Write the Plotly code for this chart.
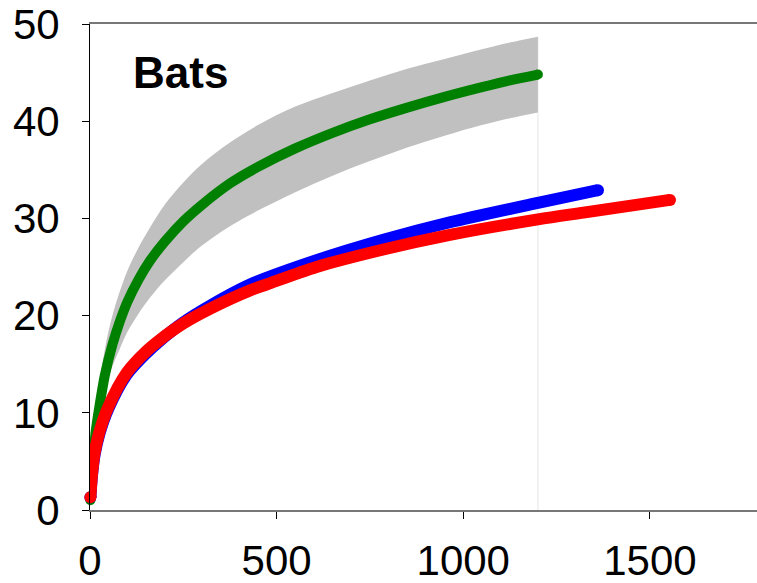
import plotly.graph_objects as go

# ---- data ----
green_x = [1, 3, 8, 15, 25, 40, 60, 80, 100, 130, 160, 200, 250, 300, 375, 450, 550, 650, 750, 850, 950, 1050, 1125, 1200]
green_y = [1.0, 2.4, 4.9, 8.0, 10.6, 13.9, 17.0, 19.4, 21.4, 23.7, 25.6, 27.6, 29.7, 31.4, 33.6, 35.3, 37.2, 38.8, 40.2, 41.4, 42.5, 43.5, 44.2, 44.8]

band_up_x = [1, 3, 8, 15, 25, 40, 60, 80, 100, 130, 160, 200, 250, 300, 375, 450, 550, 650, 750, 850, 950, 1050, 1125, 1200]
band_up_y = [1.2, 2.8, 6.1, 9.5, 13.0, 16.6, 20.0, 22.5, 24.6, 27.0, 29.0, 31.4, 33.7, 35.6, 37.8, 39.6, 41.5, 42.9, 44.2, 45.4, 46.4, 47.4, 48.1, 48.7]
band_lo_x = [1, 3, 8, 15, 25, 40, 60, 80, 100, 130, 160, 200, 250, 300, 375, 450, 550, 650, 750, 850, 950, 1050, 1125, 1200]
band_lo_y = [0.8, 2.0, 4.5, 7.0, 10.0, 12.6, 14.8, 16.6, 18.3, 20.2, 21.8, 23.6, 25.5, 27.2, 29.2, 30.8, 32.7, 34.4, 35.9, 37.3, 38.5, 39.6, 40.3, 40.9]

blue_x = [1, 5, 12, 25, 49, 98, 150, 187, 250, 321, 429, 607, 786, 964, 1200, 1361]
blue_y = [1.3, 3.4, 5.6, 7.8, 10.4, 13.9, 16.1, 17.4, 19.3, 21.0, 23.2, 25.7, 27.8, 29.6, 31.6, 32.9]

red_x = [1, 5, 12, 25, 49, 98, 150, 187, 250, 321, 429, 473, 607, 786, 964, 1200, 1322, 1554]
red_y = [1.3, 3.5, 5.8, 8.0, 10.6, 14.1, 16.3, 17.5, 19.2, 20.7, 22.6, 23.2, 25.0, 26.8, 28.3, 29.9, 30.6, 31.9]

x_ticks = [0, 500, 1000, 1500]
y_ticks = [0, 10, 20, 30, 40, 50]
label = "Bats"

FONT = "Liberation Sans, Arial, sans-serif"

fig = go.Figure()

# faint vertical edge line of the band
fig.add_trace(go.Scatter(x=[band_lo_x[-1], band_lo_x[-1]], y=[0, band_up_y[-1]],
                         mode="lines", line=dict(color="#e6e6e6", width=1),
                         hoverinfo="skip", showlegend=False))

# confidence band
fig.add_trace(go.Scatter(x=band_lo_x, y=band_lo_y, mode="lines",
                         line=dict(width=0, shape="spline", color="#c0c0c0"),
                         cliponaxis=False, showlegend=False, hoverinfo="skip"))
fig.add_trace(go.Scatter(x=band_up_x, y=band_up_y, mode="lines",
                         line=dict(width=0, shape="spline", color="#c0c0c0"),
                         fill="tonexty", fillcolor="#c0c0c0",
                         cliponaxis=False, showlegend=False, hoverinfo="skip"))

def add_curve(xs, ys, color, w):
    fig.add_trace(go.Scatter(x=xs, y=ys, mode="lines",
                             line=dict(color=color, width=w, shape="spline", smoothing=0.8),
                             cliponaxis=False, showlegend=False))
    fig.add_trace(go.Scatter(x=[xs[0], xs[-1]], y=[ys[0], ys[-1]], mode="markers",
                             marker=dict(color=color, size=w, line=dict(width=0)),
                             cliponaxis=False, showlegend=False))

add_curve(green_x, green_y, "#008000", 10)
add_curve(blue_x, blue_y, "#0000ff", 12)
add_curve(red_x, red_y, "#ff0000", 12)

fig.add_annotation(text=label, xref="paper", yref="paper", x=0.135, y=0.901,
                   xanchor="center", yanchor="middle", showarrow=False,
                   font=dict(family=FONT, size=44, color="black", weight="bold"))

fig.update_layout(
    width=757, height=583,
    margin=dict(l=90, r=0, t=24, b=73),
    paper_bgcolor="white", plot_bgcolor="white",
    showlegend=False,
    font=dict(family=FONT, size=42, color="black"),
)
fig.update_xaxes(range=[0, 1787], tickvals=x_ticks, ticktext=[str(v) for v in x_ticks],
                 showgrid=False, zeroline=False, showline=True, linecolor="#777777",
                 linewidth=1.5, mirror=True, ticks="outside", ticklen=7, tickcolor="black",
                 ticklabelstandoff=6, automargin=False,
                 tickfont=dict(family=FONT, size=42, color="black"))
fig.update_yaxes(range=[0, 50], tickvals=y_ticks, ticktext=[str(v) for v in y_ticks],
                 showgrid=False, zeroline=False, showline=True, linecolor="black",
                 linewidth=1, ticks="outside", ticklen=7, tickcolor="black",
                 ticklabelstandoff=14, automargin=False,
                 tickfont=dict(family=FONT, size=42, color="black"))

post = ("document.documentElement.style.margin='0';"
        "document.body.style.margin='0';document.body.style.padding='0';"
        "document.body.style.overflow='hidden';"
        "var gd=document.getElementById('{plot_id}');"
        "Plotly.relayout(gd,{width:757,height:583});")

fig.write_html("out.html", post_script=post,
               config={"responsive": False, "displayModeBar": False})
